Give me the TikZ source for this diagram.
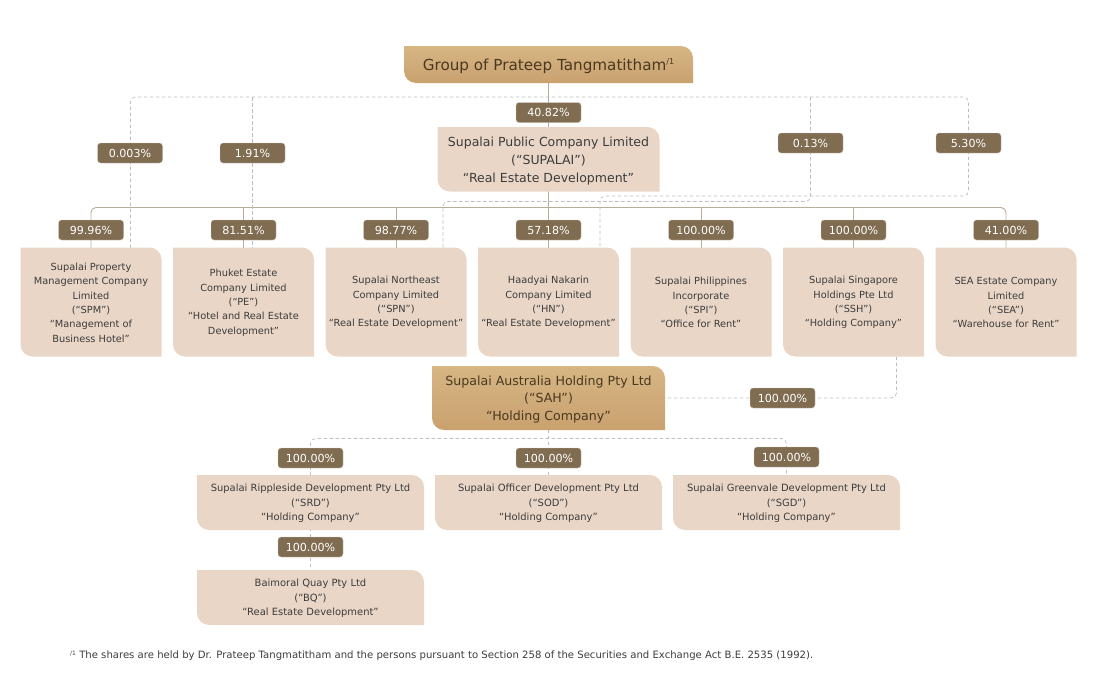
\documentclass[tikz,border=0pt]{standalone}
\usepackage{fontspec}
\setmainfont{DejaVu Sans}
\usetikzlibrary{calc}
\pgfdeclarelayer{conn}
\pgfdeclarelayer{boxes}
\pgfsetlayers{conn,boxes,main}
\definecolor{pale}{HTML}{E9D6C6}
\definecolor{goldtop}{HTML}{D6B684}
\definecolor{goldbot}{HTML}{C9A16F}
\definecolor{tag}{HTML}{806C50}
\definecolor{busline}{HTML}{B9AC9B}
\definecolor{dashline}{HTML}{BDBDBD}
\definecolor{inkdark}{HTML}{3C3C3C}
\definecolor{inkbrown}{HTML}{4A3820}
\tikzset{
  x=1pt,y=-1pt,
  palefill/.style={fill=pale},
  goldfill/.style={top color=goldtop,bottom color=goldbot,draw=none},
  txt/.style={inner sep=0pt,align=center,text=inkdark},
  smalltxt/.style={txt,yshift=-1pt,font=\fontsize{9.95}{14.3}\selectfont},
  rowtxt/.style={txt,yshift=-0.7pt,font=\fontsize{9.8}{14.3}\selectfont},
  bigtxt/.style={txt,yshift=-2pt,font=\fontsize{12.5}{18}\selectfont},
  goldtxt/.style={txt,yshift=-1.5pt,text=inkbrown,font=\fontsize{12.6}{17.5}\selectfont},
  titletxt/.style={txt,yshift=-1.8pt,text=inkbrown,font=\fontsize{15.2}{18}\selectfont},
  pct/.style={fill=tag,draw=tag!40!white,line width=0.4pt,rounded corners=3pt,text=white,inner sep=0pt,
    minimum width=65pt,minimum height=20pt,font=\fontsize{11.1}{12}\selectfont},
  bus/.style={draw=busline,line width=0.9pt},
  dashconn/.style={draw=dashline,line width=0.7pt,dash pattern=on 3.5pt off 2.5pt,rounded corners=5pt},
  footnotetxt/.style={inner sep=0pt,anchor=west,text=inkdark,font=\fontsize{10.1}{12}\selectfont}
}
\newcommand{\orgbox}[7]{%
  % #1 shape style, #2 text style, #3 name, #4..#7 -> x0,y0,x1,y1
  \begin{pgfonlayer}{boxes}
    \path[#1] (#4,#5) -- ({#6-12},#5) .. controls ({#6-5.4},#5) and (#6,{#5+5.4}) .. (#6,{#5+12})
      -- (#6,#7) -- ({#4+12},#7) .. controls ({#4+5.4},#7) and (#4,{#7-5.4}) .. (#4,{#7-12}) -- cycle;
  \end{pgfonlayer}%
  \coordinate (#3-c) at ({(#4+#6)/2},{(#5+#7)/2});%
  \node[#2,rectangle,minimum width={(#6-#4)*1pt},minimum height={(#7-#5)*1pt}] (#3) at (#3-c)
}
\begin{document}
\begin{tikzpicture}
\useasboundingbox (0,0) rectangle (1098,696);

% boxes
\orgbox{goldfill}{titletxt}{top}{404}{46}{693}{83} {Group of Prateep Tangmatitham\raisebox{0.7ex}{\fontsize{8}{8}\selectfont /1}};
\orgbox{palefill}{bigtxt}{supalai}{437.5}{127}{659.5}{191.5} {Supalai Public Company Limited\\(“SUPALAI”)\\“Real Estate Development”};

\orgbox{palefill}{rowtxt}{spm}{20.5}{247.5}{161.5}{356.5} {Supalai Property\\Management Company\\Limited\\(“SPM”)\\“Management of\\Business Hotel”};
\orgbox{palefill}{rowtxt}{pe}{173}{247.5}{314}{356.5} {Phuket Estate\\Company Limited\\(“PE”)\\“Hotel and Real Estate\\Development”};
\orgbox{palefill}{rowtxt}{spn}{325.5}{247.5}{466.5}{356.5} {Supalai Northeast\\Company Limited\\(“SPN”)\\“Real Estate Development”};
\orgbox{palefill}{rowtxt}{hn}{478}{247.5}{619}{356.5} {Haadyai Nakarin\\Company Limited\\(“HN”)\\“Real Estate Development”};
\orgbox{palefill}{rowtxt}{spi}{630.5}{247.5}{771.5}{356.5} {Supalai Philippines\\Incorporate\\(“SPI”)\\“Office for Rent”};
\orgbox{palefill}{rowtxt}{ssh}{783}{247.5}{924}{356.5} {Supalai Singapore\\Holdings Pte Ltd\\(“SSH”)\\“Holding Company”};
\orgbox{palefill}{rowtxt}{sea}{935.5}{247.5}{1076.5}{356.5} {SEA Estate Company\\Limited\\(“SEA”)\\“Warehouse for Rent”};

\orgbox{goldfill}{goldtxt}{sah}{432}{366}{665}{430} {Supalai Australia Holding Pty Ltd\\(“SAH”)\\“Holding Company”};

\orgbox{palefill}{smalltxt}{srd}{197}{475}{424}{530} {Supalai Rippleside Development Pty Ltd\\(“SRD”)\\“Holding Company”};
\orgbox{palefill}{smalltxt}{sod}{435}{475}{662}{530} {Supalai Officer Development Pty Ltd\\(“SOD”)\\“Holding Company”};
\orgbox{palefill}{smalltxt}{sgd}{673}{475}{900}{530} {Supalai Greenvale Development Pty Ltd\\(“SGD”)\\“Holding Company”};
\orgbox{palefill}{smalltxt}{bq}{197}{570}{424}{625} {Baimoral Quay Pty Ltd\\(“BQ”)\\“Real Estate Development”};

% percentage tags
\node[pct] (p4082) at (548.5,112.5) {40.82\%};
\node[pct] (p0003) at (130,153) {0.003\%};
\node[pct] (p191) at (252.5,153) {1.91\%};
\node[pct] (p013) at (810.5,143) {0.13\%};
\node[pct] (p530) at (968.5,143) {5.30\%};
\node[pct] (pspm) at (91,230) {99.96\%};
\node[pct] (ppe) at (243.5,230) {81.51\%};
\node[pct] (pspn) at (396,230) {98.77\%};
\node[pct] (phn) at (548.5,230) {57.18\%};
\node[pct] (pspi) at (701,230) {100.00\%};
\node[pct] (pssh) at (853.5,230) {100.00\%};
\node[pct] (psea) at (1006,230) {41.00\%};
\node[pct] (psah) at (782.5,398) {100.00\%};
\node[pct] (psrd) at (310.5,458) {100.00\%};
\node[pct] (psod) at (548.5,458) {100.00\%};
\node[pct] (psgd) at (786.5,457) {100.00\%};
\node[pct] (pbq) at (310.5,547) {100.00\%};

% junction coordinates
\coordinate (busmid) at (548.5,207.5);
\coordinate (dashL) at (252.5,97);
\coordinate (dashM) at (810.5,97);
\coordinate (dashR) at (968.5,97);
\coordinate (dashRb) at (968.5,196);
\coordinate (dashMb) at (810.5,201.5);
\coordinate (ausbus) at (548.5,438.5);

\begin{pgfonlayer}{conn}
  % solid ownership lines (ends hidden behind the boxes)
  \draw[bus] (top.center) -- (supalai.center);
  \draw[bus] (supalai.center) -- (hn.center);
  \draw[bus,rounded corners=5pt] (spm.north) |- (busmid) -| (sea.north);
  \foreach \n in {pe,spn,spi,ssh} \draw[bus] (\n.north |- busmid) -- (\n.north);
  % dashed lines
  \draw[dashconn] ([xshift=39.5pt]spm.north) |- (dashL) -- (dashM) -- (dashR) -- (dashRb) -| ([xshift=51.5pt]hn.north);
  \draw[dashconn] (dashL) -- ([xshift=9pt]pe.north);
  \draw[dashconn] (dashM) -- (dashMb) -| ([xshift=47pt]spn.north);
  \draw[dashconn] ([xshift=43pt]ssh.center) |- (sah.east |- psah);
  \draw[dashconn] (sah.center) -- (sod.center);
  \draw[dashconn] (srd.north) |- (ausbus) -| (sgd.north);
  \draw[dashconn] (srd.center) -- (bq.center);
\end{pgfonlayer}

\node[footnotetxt] (note) at (70,655.5) {\raisebox{0.5ex}{\fontsize{6}{6}\selectfont /1}\ The shares are held by Dr. Prateep Tangmatitham and the persons pursuant to Section 258 of the Securities and Exchange Act B.E. 2535 (1992).};
\end{tikzpicture}
\end{document}
